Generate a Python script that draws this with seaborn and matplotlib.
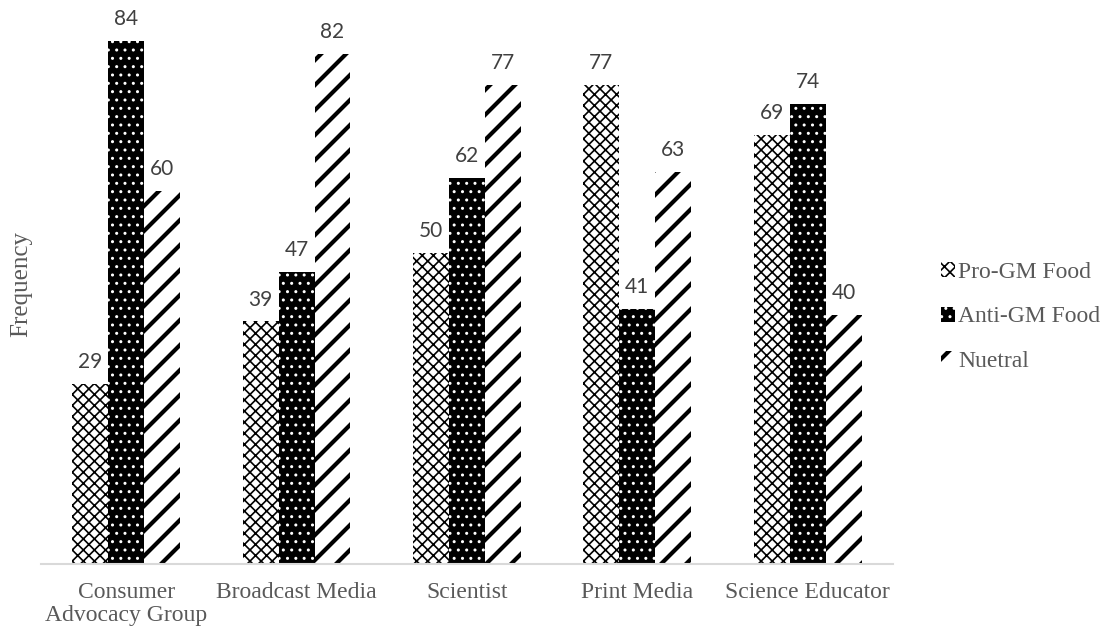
import pandas as pd
import matplotlib.pyplot as plt
import matplotlib.hatch as mhatch
import seaborn as sns
from matplotlib.patches import Patch

# === Data ===
groups = ["Consumer\nAdvocacy Group", "Broadcast Media", "Scientist", "Print Media", "Science Educator"]
series = ["Pro-GM Food", "Anti-GM Food", "Nuetral"]
pro_gm = [29, 39, 50, 77, 69]
anti_gm = [84, 47, 62, 41, 74]
neutral = [60, 82, 77, 63, 40]

df = pd.DataFrame({
    "group": groups * 3,
    "stance": [series[0]] * 5 + [series[1]] * 5 + [series[2]] * 5,
    "freq": pro_gm + anti_gm + neutral,
})


# a '/' stripe a bit denser than the default one (Excel-like wide diagonal)
class WideNorthEast(mhatch.NorthEastHatch):
    def __init__(self, hatch, density):
        super().__init__(hatch, density)
        n_slash = hatch.count('/')
        n_x = hatch.count('x') + hatch.count('X')
        self.num_lines = int(n_slash * density * 1.4 + n_x * density)
        if self.num_lines:
            self.num_vertices = (self.num_lines + 1) * 2
        else:
            self.num_vertices = 0


try:
    mhatch._hatch_types = [WideNorthEast if t is mhatch.NorthEastHatch else t
                           for t in mhatch._hatch_types]
except AttributeError:
    pass

# === Styles per series: (face, hatch colour, hatch, hatch lw) ===
styles = [
    ("white", "black", "xxx", 1.2),
    ("black", "white", "..", 1.0),
    ("white", "black", "/", 3.0),
]

sns.set_style("white")
serif = ["Liberation Serif", "DejaVu Serif"]
txt_gray = "#595959"

fig = plt.figure(figsize=(11.01, 6.35), dpi=100)
ax = fig.add_axes([0.0372, 0.1118, 0.7738, 0.882])

sns.barplot(data=df, x="group", y="freq", hue="stance", hue_order=series,
            width=0.633, ax=ax, legend=False, linewidth=0, saturation=1)


def style_patch(p, face, hcol, hatch, hlw):
    p.set_facecolor(face)
    p.set_edgecolor(hcol)
    p.set_linewidth(0)
    p.set_hatch(hatch)
    if hasattr(p, "set_hatch_linewidth"):
        p.set_hatch_linewidth(hlw)
    else:
        p._hatch_linewidth = hlw


for cont, (face, hcol, hatch, hlw) in zip(ax.containers, styles):
    for p in cont:
        style_patch(p, face, hcol, hatch, hlw)
    ax.bar_label(cont, padding=8.5, fontsize=15, color="#404040", family=["Lato", "DejaVu Sans"])

ax.set_ylim(0, 90)
ax.set_yticks([])
ax.set_xlabel("")
ax.set_ylabel("Frequency", fontsize=18, color=txt_gray, family=serif, labelpad=6)
ax.tick_params(axis="x", length=0, pad=13, labelsize=17, labelcolor=txt_gray)
for lab in ax.get_xticklabels():
    lab.set_family(serif)
    lab.set_linespacing(1.15)
for s in ["top", "left", "right"]:
    ax.spines[s].set_visible(False)
ax.spines["bottom"].set_color("#d9d9d9")
ax.spines["bottom"].set_linewidth(1.5)

# === Legend ===
handles = [Patch(facecolor=face, edgecolor=hcol, hatch=hatch, linewidth=0, label=name)
           for (face, hcol, hatch, hlw), name in zip(styles, series)]
leg = fig.legend(handles=handles, loc="center left", bbox_to_anchor=(0.835, 0.501),
                 frameon=False, prop={"family": serif, "size": 17},
                 handlelength=0.6, handleheight=0.6, handletextpad=0.15, labelspacing=1.0)
for p, (face, hcol, hatch, hlw) in zip(leg.get_patches(), styles):
    style_patch(p, face, hcol, hatch, hlw)
for t in leg.get_texts():
    t.set_color(txt_gray)

fig.savefig("out.png", dpi=100)
plt.close()
